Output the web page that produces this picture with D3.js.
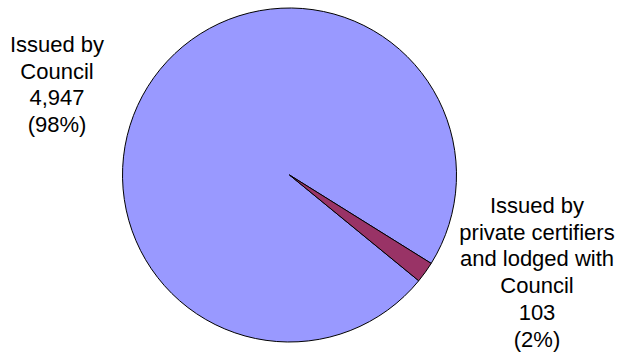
<!DOCTYPE html>
<html>
<head>
<meta charset="utf-8">
<script src="https://cdn.jsdelivr.net/npm/d3@7"></script>
<style>
  html, body { margin: 0; padding: 0; background: #fff; }
  svg { display: block; }
</style>
</head>
<body>
<svg id="chart" width="623" height="355"></svg>
<script>
// data
const categories = ['Issued by Council', 'Issued by private certifiers and lodged with Council'];
const values = [4947, 103];
const percentLabels = ['(98%)', '(2%)'];
const labelLines = [
  ['Issued by', 'Council'],
  ['Issued by', 'private certifiers', 'and lodged with', 'Council']
];
const colors = ['#9999ff', '#993366'];

const width = 623, height = 355;
const cx = 289.5, cy = 175, radius = 167;
// the pie is rotated so the small slice sits at lower right
const startDeg = 129.3;

// label block anchors (centre x, first baseline y)
const labelPos = [
  { x: 57, y: 52 },
  { x: 537, y: 213 }
];
const lineHeight = 26.7;

const svg = d3.select('#chart');

const pie = d3.pie()
  .sort(null)
  .value((d) => d)
  .startAngle(startDeg * Math.PI / 180)
  .endAngle(startDeg * Math.PI / 180 + 2 * Math.PI);

const arc = d3.arc().innerRadius(0).outerRadius(radius);

const g = svg.append('g').attr('transform', `translate(${cx},${cy})`);

g.selectAll('path')
  .data(pie(values))
  .enter()
  .append('path')
  .attr('d', arc)
  .attr('fill', (d, i) => colors[i])
  .attr('stroke', '#000')
  .attr('stroke-width', 1)
  .attr('stroke-linejoin', 'round');

// labels
const fmt = d3.format(',');
categories.forEach((c, i) => {
  const lines = labelLines[i].concat([fmt(values[i]), percentLabels[i]]);
  const t = svg.append('text')
    .attr('text-anchor', 'middle')
    .attr('font-family', '"Liberation Sans", Arial, sans-serif')
    .attr('font-size', 22)
    .attr('fill', '#000');
  lines.forEach((s, j) => {
    t.append('tspan')
      .attr('x', labelPos[i].x)
      .attr('y', labelPos[i].y + j * lineHeight)
      .text(s);
  });
});
</script>
</body>
</html>
